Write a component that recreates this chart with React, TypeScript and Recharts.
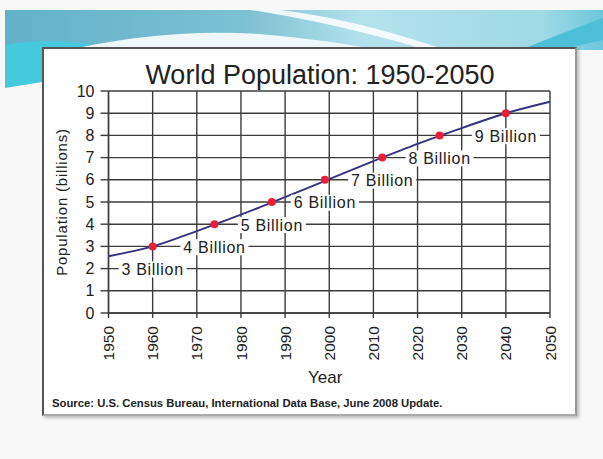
import {
  ComposedChart,
  Line,
  XAxis,
  YAxis,
  CartesianGrid,
  LabelList,
} from "recharts";

// decade readings of the projection curve
const years = [1950, 1960, 1970, 1980, 1990, 2000, 2010, 2020, 2030, 2040, 2050];
const population = [2.56, 3.0, 3.69, 4.43, 5.22, 6.03, 6.84, 7.62, 8.33, 9.0, 9.52];

// billion milestones (red dots)
const milestoneYears = [1960, 1974, 1987, 1999, 2012, 2025, 2040];
const milestoneValues = [3, 4, 5, 6, 7, 8, 9];
const milestoneLabels = [
  "3 Billion",
  "4 Billion",
  "5 Billion",
  "6 Billion",
  "7 Billion",
  "8 Billion",
  "9 Billion",
];

const xTicks = [1950, 1960, 1970, 1980, 1990, 2000, 2010, 2020, 2030, 2040, 2050];
const yTicks = [0, 1, 2, 3, 4, 5, 6, 7, 8, 9, 10];

const curve = years.map((y, i) => ({ year: y, pop: population[i] }));
const milestones = milestoneYears.map((y, i) => ({
  year: y,
  pop: milestoneValues[i],
  label: milestoneLabels[i],
}));

const FONT = "'Liberation Sans', Arial, sans-serif";
const GRID = "#3c3c3c";

const YearTick = (props: any) => {
  const { x, y, payload } = props;
  return (
    <text
      x={x}
      y={y}
      transform={`rotate(-90 ${x} ${y})`}
      textAnchor="end"
      dy="0.36em"
      fontSize={15.5}
      fontFamily={FONT}
      fill="#222"
    >
      {payload.value}
    </text>
  );
};

const RedDot = (props: any) => {
  const { cx, cy } = props;
  if (cx == null || cy == null) return null;
  return <circle cx={cx} cy={cy} r={4} fill="#e8203c" stroke="none" />;
};

const MilestoneLabel = (props: any) => {
  const { x, y, value } = props;
  const ty = y + 23;
  return (
    <g>
      <rect x={x - 34} y={ty - 8} width={68} height={16} fill="#fff" />
      <text
        x={x}
        y={ty}
        textAnchor="middle"
        dominantBaseline="central"
        fontSize={16}
        letterSpacing={0.7}
        fontFamily={FONT}
        fill="#222"
      >
        {value}
      </text>
    </g>
  );
};

function Banner() {
  return (
    <svg
      width={603}
      height={459}
      style={{ position: "absolute", left: 0, top: 0 }}
    >
      <defs>
        <linearGradient id="band" x1="0" y1="0" x2="1" y2="0">
          <stop offset="0" stopColor="#62b2c9" />
          <stop offset="0.4" stopColor="#7cc0d3" />
          <stop offset="0.6" stopColor="#b4e2ec" />
          <stop offset="0.9" stopColor="#9fd9e6" />
          <stop offset="1" stopColor="#6cc6dc" />
        </linearGradient>
      </defs>
      <rect x={5} y={10} width={598} height={40} fill="url(#band)" />
      <path d="M5 45 Q 40 38 90 44 L 42 82 L 5 88 Z" fill="#45c9dd" />
      <path d="M60 52 Q 160 28 260 34 Q 330 40 390 52 Z" fill="#eef7fa" />
      <path d="M250 10 Q 330 22 420 48 L 440 48 Q 350 18 280 10 Z" fill="#ffffff" opacity={0.85} />
      <path d="M520 50 Q 570 30 603 18 L 603 40 Q 585 44 560 50 Z" fill="#4fbfd8" />
    </svg>
  );
}

export default function App() {
  return (
    <div
      style={{
        position: "absolute",
        left: 0,
        top: 0,
        width: 603,
        height: 459,
        overflow: "hidden",
        background: "#f8f8f8",
      }}
    >
      <Banner />
      <div
        style={{
          position: "absolute",
          left: 42,
          top: 47,
          width: 531,
          height: 365,
          background: "#fff",
          borderLeft: "2px solid #555",
          borderTop: "2px solid #555",
          borderRight: "2px solid #999",
          borderBottom: "2px solid #aaa",
          boxShadow: "2px 2px 3px rgba(0,0,0,0.25)",
        }}
      />
      <div
        style={{
          position: "absolute",
          left: 0,
          top: 62,
          width: 640,
          textAlign: "center",
          fontFamily: FONT,
          fontSize: 27,
          lineHeight: "26px",
          color: "#222",
        }}
      >
        World Population: 1950-2050
      </div>
      <div
        style={{
          position: "absolute",
          left: 52,
          top: 397,
          fontFamily: FONT,
          fontSize: 11.3,
          fontWeight: "bold",
          lineHeight: "13px",
          color: "#222",
          whiteSpace: "nowrap",
        }}
      >
        Source: U.S. Census Bureau, International Data Base, June 2008 Update.
      </div>
      <div style={{ position: "absolute", left: 0, top: 0 }}>
        <ComposedChart
          width={603}
          height={459}
          margin={{ top: 91, right: 53, left: 48.5, bottom: 76 }}
        >
          <CartesianGrid stroke={GRID} strokeWidth={1.4} />
          <XAxis
            dataKey="year"
            type="number"
            domain={[1950, 2050]}
            ticks={xTicks}
            interval={0}
            allowDuplicatedCategory={false}
            height={70}
            tickSize={5}
            tickMargin={8}
            stroke={GRID}
            strokeWidth={1.4}
            tick={<YearTick />}
            label={{
              content: (p: any) => {
                const vb = p.viewBox;
                return (
                  <text
                    x={vb.x + vb.width / 2 - 4}
                    y={vb.y + 64}
                    textAnchor="middle"
                    dominantBaseline="central"
                    fontSize={17}
                    fontFamily={FONT}
                    fill="#222"
                  >
                    Year
                  </text>
                );
              },
            }}
          />
          <YAxis
            type="number"
            domain={[0, 10]}
            ticks={yTicks}
            interval={0}
            width={60}
            tickSize={8}
            tickMargin={6}
            stroke={GRID}
            strokeWidth={1.4}
            tick={{ fontSize: 16, fontFamily: FONT, fill: "#222" }}
            label={{
              content: (p: any) => {
                const vb = p.viewBox;
                const cx = vb.x + 13;
                const cy = vb.y + vb.height / 2;
                return (
                  <text
                    x={cx}
                    y={cy}
                    transform={`rotate(-90 ${cx} ${cy})`}
                    textAnchor="middle"
                    dominantBaseline="central"
                    fontSize={15}
                    letterSpacing={0.8}
                    fontFamily={FONT}
                    fill="#222"
                  >
                    Population (billions)
                  </text>
                );
              },
            }}
          />
          <Line
            data={curve}
            dataKey="pop"
            type="monotone"
            stroke="#34347f"
            strokeWidth={2}
            dot={false}
            activeDot={false}
            isAnimationActive={false}
          />
          <Line
            data={milestones}
            dataKey="pop"
            stroke="none"
            dot={<RedDot />}
            activeDot={false}
            isAnimationActive={false}
          >
            <LabelList dataKey="label" content={<MilestoneLabel />} />
          </Line>
        </ComposedChart>
      </div>
    </div>
  );
}
